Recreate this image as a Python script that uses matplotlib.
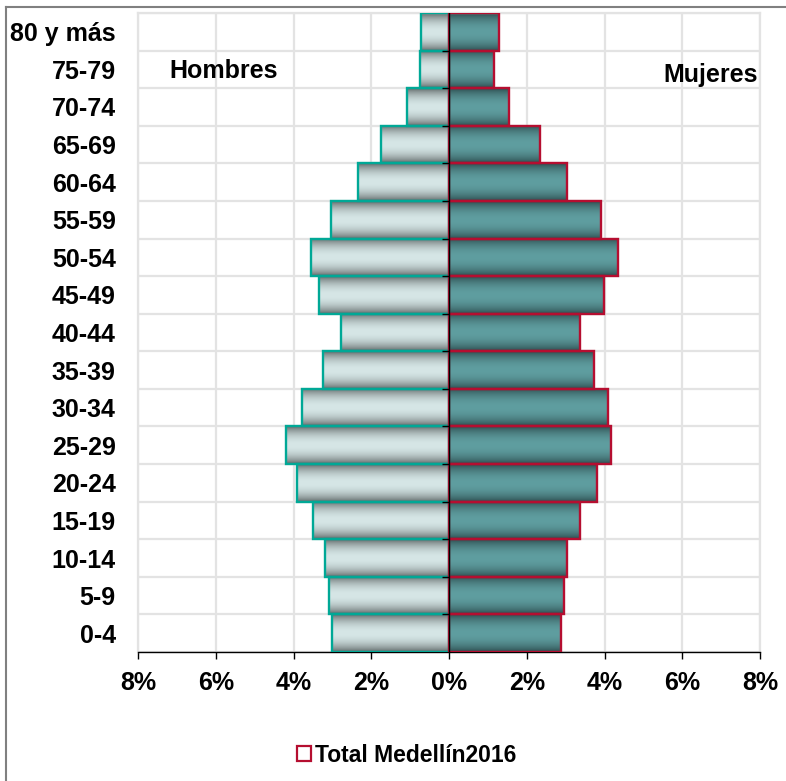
import matplotlib.pyplot as plt
import numpy as np
from matplotlib.colors import LinearSegmentedColormap
from matplotlib.lines import Line2D
from matplotlib.patches import Patch
from matplotlib.ticker import FuncFormatter

plt.rcParams['font.family'] = ['Liberation Sans', 'DejaVu Sans']
plt.rcParams['font.weight'] = 'bold'

# datos: porcentaje de la población por grupo de edad
grupos = ['0-4', '5-9', '10-14', '15-19', '20-24', '25-29', '30-34', '35-39',
          '40-44', '45-49', '50-54', '55-59', '60-64', '65-69', '70-74',
          '75-79', '80 y más']
hombres = [3.02, 3.09, 3.20, 3.50, 3.90, 4.20, 3.79, 3.25,
           2.78, 3.34, 3.54, 3.04, 2.35, 1.74, 1.08, 0.74, 0.71]
mujeres = [2.88, 2.95, 3.03, 3.37, 3.80, 4.17, 4.08, 3.73,
           3.36, 3.98, 4.34, 3.91, 3.04, 2.35, 1.54, 1.16, 1.29]
ticks_x = [-8, -6, -4, -2, 0, 2, 4, 6, 8]

# degradados tipo Excel (oscuro en los bordes, claro al centro)
cmap_h = LinearSegmentedColormap.from_list('h', ['#565d5d', '#d6e6e6'])
cmap_m = LinearSegmentedColormap.from_list('m', ['#284648', '#5f9ea0'])
t = np.linspace(0, 1, 128)
grad = (np.sin(np.pi * t) ** 0.7).reshape(-1, 1)

fig = plt.figure(figsize=(7.86, 7.81), dpi=100)
ax = fig.add_axes([138 / 786, 1 - 652 / 781, 622 / 786, 639 / 781])

y = np.arange(len(grupos))
barras_h = ax.barh(y, [-v for v in hombres], height=1.0, facecolor='none',
                   edgecolor='#00a896', linewidth=1.7, zorder=3)
barras_m = ax.barh(y, mujeres, height=1.0, facecolor='none',
                   edgecolor='#b50e30', linewidth=1.7, zorder=3)

for barras, cm in ((barras_h, cmap_h), (barras_m, cmap_m)):
    for b in barras:
        x0, y0 = b.get_x(), b.get_y()
        w, h = b.get_width(), b.get_height()
        im = ax.imshow(grad, extent=(x0, x0 + w, y0, y0 + h), cmap=cm,
                       vmin=0, vmax=1, aspect='auto', zorder=2,
                       interpolation='bilinear')
        im.set_clip_path(b)

ax.set_xlim(-8, 8)
ax.set_ylim(-0.5, len(grupos) - 0.5)

# eje central y marcas de categoría
ax.axvline(0, color='black', lw=1, zorder=4)
limites = np.arange(len(grupos)) - 0.5
ax.hlines(limites[1:], -0.18, 0, color='black', lw=1, zorder=4)

ax.set_yticks(y)
ax.set_yticklabels(grupos)
ax.set_yticks(np.arange(-0.5, len(grupos), 1), minor=True)
ax.tick_params(axis='y', which='both', length=0, pad=16, labelsize=18)
ax.set_xticks(ticks_x)
ax.xaxis.set_major_formatter(FuncFormatter(lambda v, p: f'{abs(v):.0f}%'))
ax.tick_params(axis='x', length=5, width=1, color='black', pad=9, labelsize=18)

ax.grid(axis='x', which='major', color='#e3e3e3', lw=1.6, zorder=0)
ax.grid(axis='y', which='minor', color='#e3e3e3', lw=1.6, zorder=0)
ax.set_axisbelow(True)
for s in ('top', 'left', 'right'):
    ax.spines[s].set_color('#e3e3e3')
    ax.spines[s].set_linewidth(1.6)
ax.spines['bottom'].set_color('black')
ax.spines['bottom'].set_linewidth(1)

ax.text(0.138, 0.909, 'Hombres', transform=ax.transAxes, ha='center',
        va='center', fontsize=18, fontweight='bold')
ax.text(0.920, 0.903, 'Mujeres', transform=ax.transAxes, ha='center',
        va='center', fontsize=18, fontweight='bold')

fig.legend(handles=[Patch(facecolor='white', edgecolor='#b50e30', lw=1.6,
                          label='Total Medellín2016')],
           loc='center', bbox_to_anchor=(407 / 786, 1 - 755 / 781),
           frameon=False, fontsize=16.5, handlelength=0.6, handleheight=0.6,
           handletextpad=0.2)

# marco exterior del gráfico
fig.add_artist(Line2D([5.5 / 786, 5.5 / 786], [0, 1 - 6.5 / 781],
                      transform=fig.transFigure, color='#808080', lw=1.5))
fig.add_artist(Line2D([5.5 / 786, 1], [1 - 6.5 / 781, 1 - 6.5 / 781],
                      transform=fig.transFigure, color='#808080', lw=1.5))

fig.savefig('out.png', dpi=100)
plt.close(fig)
